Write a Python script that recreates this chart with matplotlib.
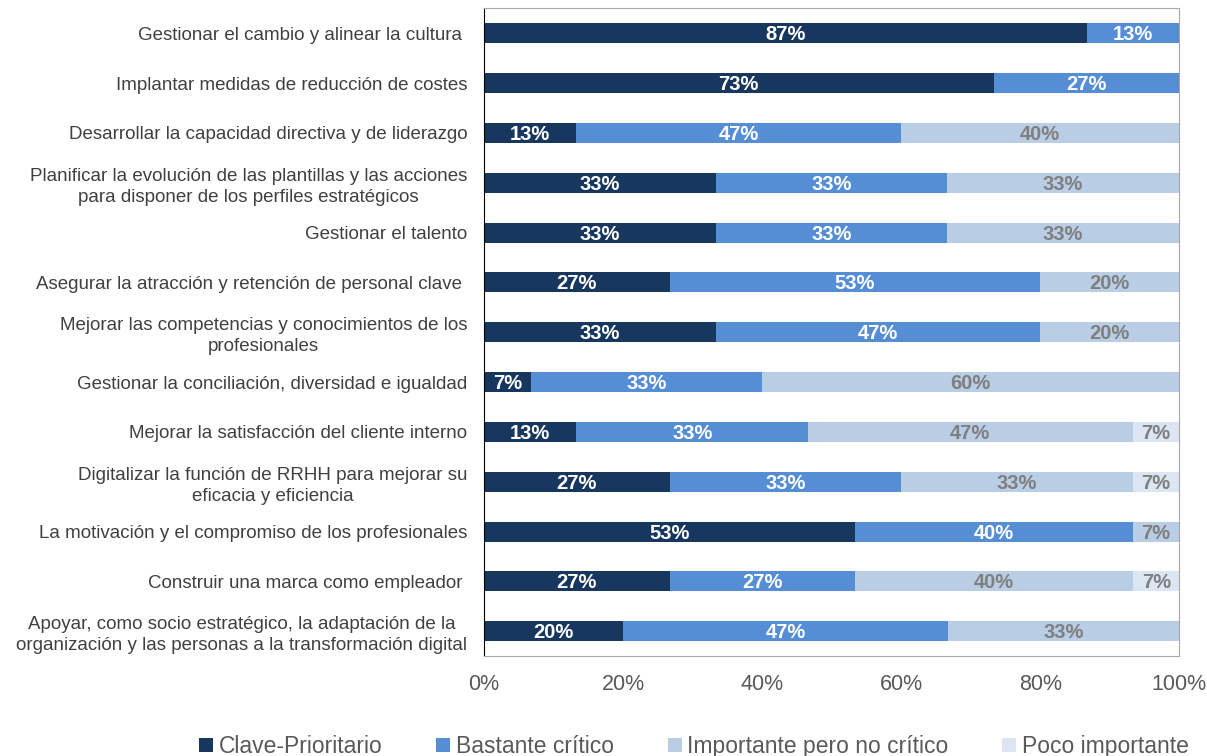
import numpy as np
import matplotlib
matplotlib.use('Agg')
import matplotlib.pyplot as plt
import matplotlib.ticker as mtick

categories = [
    'Gestionar el cambio y alinear la cultura ',
    'Implantar medidas de reducción de costes',
    'Desarrollar la capacidad directiva y de liderazgo',
    'Planificar la evolución de las plantillas y las acciones\npara disponer de los perfiles estratégicos',
    'Gestionar el talento',
    'Asegurar la atracción y retención de personal clave ',
    'Mejorar las competencias y conocimientos de los\nprofesionales',
    'Gestionar la conciliación, diversidad e igualdad',
    'Mejorar la satisfacción del cliente interno',
    'Digitalizar la función de RRHH para mejorar su\neficacia y eficiencia',
    'La motivación y el compromiso de los profesionales',
    'Construir una marca como empleador ',
    'Apoyar, como socio estratégico, la adaptación de la\norganización y las personas a la transformación digital',
]

series_names = ['Clave-Prioritario', 'Bastante crítico',
                'Importante pero no crítico', 'Poco importante']

clave = [86.7, 73.3, 13.3, 33.3, 33.3, 26.7, 33.3, 6.7, 13.3, 26.7, 53.3, 26.7, 20.0]
bastante = [13.3, 26.7, 46.7, 33.3, 33.3, 53.3, 46.7, 33.3, 33.3, 33.3, 40.0, 26.7, 46.7]
importante = [0, 0, 40.0, 33.3, 33.3, 20.0, 20.0, 60.0, 46.7, 33.3, 6.7, 40.0, 33.3]
poco = [0, 0, 0, 0, 0, 0, 0, 0, 6.7, 6.7, 0, 6.7, 0]

colors = ['#17375E', '#558ED5', '#B9CDE5', '#DCE6F2']
label_colors = ['white', 'white', '#7F7F7F', '#7F7F7F']

plt.rcParams['font.family'] = ['Liberation Sans', 'DejaVu Sans']

fig = plt.figure(figsize=(12.07, 7.56), dpi=100)
ax = fig.add_axes([0.401, 0.132, 0.576, 0.857])

y = np.arange(len(categories))
left = np.zeros(len(categories))
for vals, name, col, tcol in zip([clave, bastante, importante, poco],
                                 series_names, colors, label_colors):
    vals = np.array(vals, dtype=float)
    ax.barh(y, vals, left=left, height=0.4, color=col, label=name)
    for yi, v, l in zip(y, vals, left):
        if v > 0:
            ax.text(l + v / 2, yi + 0.03, '{:.0f}%'.format(v), ha='center', va='center',
                    color=tcol, fontsize=14.5, fontweight='bold')
    left += vals

ax.set_xlim(0, 100)
ax.set_ylim(len(categories) - 0.5, -0.5)
ax.set_yticks(y)
ax.set_yticklabels(categories, fontsize=13.5, color='#404040',
                   multialignment='center', linespacing=1.3)
ax.xaxis.set_major_locator(mtick.MultipleLocator(20))
ax.xaxis.set_major_formatter(mtick.FormatStrFormatter('%d%%'))
ax.tick_params(axis='x', labelsize=15.5, colors='#595959', length=0, pad=13)
ax.tick_params(axis='y', length=0, pad=12)
for s in ['top', 'right', 'bottom']:
    ax.spines[s].set_color('#A6A6A6')
ax.spines['left'].set_color('black')

leg = fig.legend(loc='lower center', bbox_to_anchor=(0.575, -0.03), ncol=4,
                 frameon=False, handlelength=0.6, handleheight=0.6,
                 handletextpad=0.25, columnspacing=2.35,
                 prop={'size': 16.5})
for t in leg.get_texts():
    t.set_color('#595959')

fig.savefig('out.png', dpi=100)
